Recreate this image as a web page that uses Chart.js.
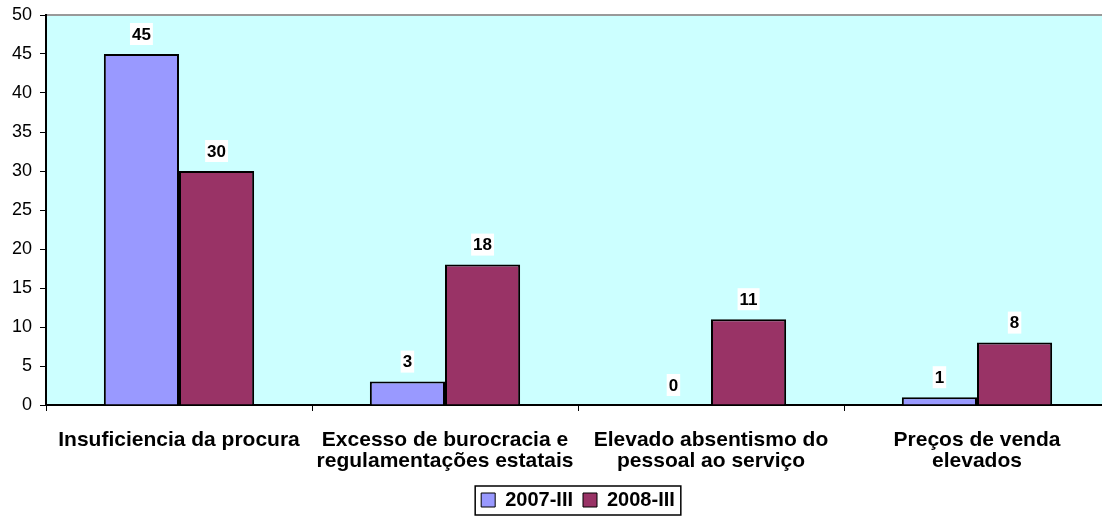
<!DOCTYPE html>
<html>
<head>
<meta charset="utf-8">
<script src="https://cdn.jsdelivr.net/npm/chart.js@4"></script>
<style>
  html, body { margin: 0; padding: 0; background: #fff; overflow: hidden; }
  #wrap { width: 1110px; height: 522px; position: relative; }
</style>
</head>
<body>
<div id="wrap"><canvas id="chart"></canvas></div>
<script>
// categories and values
const categories = [
  ['Insuficiencia da procura'],
  ['Excesso de burocracia e', 'regulamentações estatais'],
  ['Elevado absentismo do', 'pessoal ao serviço'],
  ['Preços de venda', 'elevados']
];
const values2007 = [45, 3, 0, 1];
const values2008 = [30, 18, 11, 8];
const yTicks = [0, 5, 10, 15, 20, 25, 30, 35, 40, 45, 50];

const FONT = 'Arial, "Liberation Sans", sans-serif';

// cyan plot background + grey top edge + legend frame
const backdrop = {
  id: 'backdrop',
  afterLayout(chart) {
    // centre the legend under the plot area, not the whole canvas
    const lg = chart.legend;
    const a = chart.chartArea;
    lg.left = a.left;
    lg.right = a.right;
    lg.width = a.right - a.left;
  },
  beforeDraw(chart) {
    const { ctx, chartArea: a } = chart;
    ctx.save();
    ctx.fillStyle = '#CCFFFF';
    ctx.fillRect(a.left, a.top, a.right - a.left, a.bottom - a.top);
    ctx.strokeStyle = '#999999';
    ctx.lineWidth = 2;
    ctx.beginPath();
    ctx.moveTo(a.left, a.top);
    ctx.lineTo(a.right, a.top);
    ctx.stroke();
    ctx.restore();
  },
  afterDraw(chart) {
    const boxes = chart.legend.legendHitBoxes;
    if (!boxes || !boxes.length) return;
    const l = Math.min(...boxes.map(b => b.left)) - 6;
    const r = Math.max(...boxes.map(b => b.left + b.width)) + 6;
    const t = Math.min(...boxes.map(b => b.top)) - 4;
    const btm = Math.max(...boxes.map(b => b.top + b.height)) + 5;
    const ctx = chart.ctx;
    ctx.save();
    ctx.strokeStyle = '#000';
    ctx.lineWidth = 1.5;
    ctx.strokeRect(l, t, r - l, btm - t);
    ctx.restore();
  }
};

// bold value labels on white boxes above the bars
const valueLabels = {
  id: 'valueLabels',
  afterDatasetsDraw(chart) {
    const ctx = chart.ctx;
    ctx.save();
    ctx.font = 'bold 17px ' + FONT;
    ctx.textAlign = 'center';
    ctx.textBaseline = 'middle';
    chart.data.datasets.forEach((ds, i) => {
      chart.getDatasetMeta(i).data.forEach((bar, j) => {
        const txt = String(ds.data[j]);
        const w = ctx.measureText(txt).width + 4;
        const y = bar.y - 20;
        ctx.fillStyle = '#fff';
        ctx.fillRect(bar.x - w / 2, y - 11, w, 22);
        ctx.fillStyle = '#000';
        ctx.fillText(txt, bar.x, y + 1);
      });
    });
    ctx.restore();
  }
};

new Chart(document.getElementById('chart'), {
  type: 'bar',
  data: {
    labels: categories,
    datasets: [
      {
        label: '2007-III',
        data: values2007,
        backgroundColor: '#9999FF',
        borderColor: '#000',
        borderWidth: 2,
        barPercentage: 1,
        categoryPercentage: 0.565
      },
      {
        label: '2008-III',
        data: values2008,
        backgroundColor: '#993366',
        borderColor: '#000',
        borderWidth: 2,
        barPercentage: 1,
        categoryPercentage: 0.565
      }
    ]
  },
  options: {
    responsive: true,
    maintainAspectRatio: false,
    animation: false,
    layout: { padding: { top: 0, left: 0, right: 0, bottom: 2 } },
    plugins: {
      tooltip: { enabled: false },
      legend: {
        position: 'bottom',
        labels: {
          color: '#000',
          font: { family: FONT, size: 20, weight: 'bold' },
          boxWidth: 14,
          boxHeight: 14,
          padding: 10,
          generateLabels(chart) {
            return chart.data.datasets.map((ds, i) => ({
              text: ds.label,
              fillStyle: ds.backgroundColor,
              strokeStyle: '#000',
              lineWidth: 1,
              datasetIndex: i
            }));
          }
        }
      }
    },
    scales: {
      x: {
        offset: true,
        afterFit(axis) { axis.height = 75; },
        grid: {
          offset: true,
          drawOnChartArea: false,
          drawTicks: true,
          tickLength: 6,
          color: '#000'
        },
        border: { color: '#000', width: 2 },
        ticks: {
          color: '#000',
          font: { family: FONT, size: 21, weight: 'bold', lineHeight: 1.0 },
          padding: 19,
          maxRotation: 0,
          autoSkip: false
        }
      },
      y: {
        min: 0,
        max: 50,
        afterBuildTicks(axis) {
          axis.ticks = yTicks.map(v => ({ value: v }));
        },
        afterFit(axis) {
          axis.width = 46;
          axis.paddingTop = 15;
        },
        grid: {
          drawOnChartArea: false,
          drawTicks: true,
          tickLength: 6,
          color: '#000'
        },
        border: { color: '#000', width: 2 },
        ticks: {
          color: '#000',
          font: { family: FONT, size: 18 },
          padding: 8
        }
      }
    }
  },
  plugins: [backdrop, valueLabels]
});
</script>
</body>
</html>
